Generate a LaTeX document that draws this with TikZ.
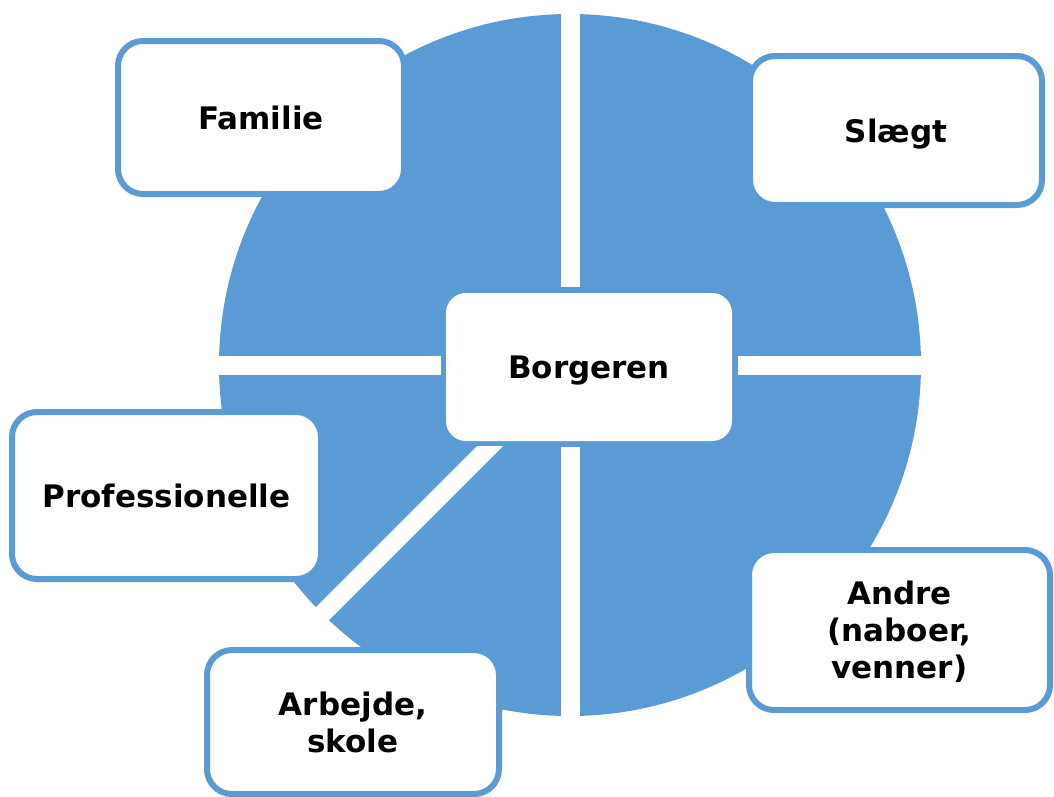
\documentclass[tikz,border=0pt]{standalone}
\usepackage{fontspec}
\setmainfont{DejaVu Sans}
\definecolor{pieblue}{HTML}{5B9BD5}
\begin{document}
\begin{tikzpicture}[x=1pt,y=-1pt,
  gap/.style={white,line width=19pt},
  box/.style={draw=pieblue,line width=6pt,fill=white,rounded corners=25pt,
    align=center,font=\fontsize{31}{37}\selectfont\bfseries,inner sep=0pt,text depth=0pt},
  centerbox/.style={fill=white,rounded corners=20pt,
    align=center,font=\fontsize{31}{37}\selectfont\bfseries,inner sep=0pt,text depth=0pt}]
\useasboundingbox (0,0) rectangle (1054,796);
\fill[white] (0,0) rectangle (1054,796);
% pie
\fill[pieblue] (570,365) circle (351);
% white gaps
\coordinate (vt1) at (570.5,5);
\coordinate (vt2) at (570.5,287);
\coordinate (vb1) at (570.5,447);
\coordinate (vb2) at (570.5,725);
\coordinate (hl1) at (212,365);
\coordinate (hl2) at (441,365);
\coordinate (hr1) at (738,365);
\coordinate (hr2) at (928,365);
\draw[gap] (vt1) -- (vt2);
\draw[gap] (vb1) -- (vb2);
\draw[gap] (hl1) -- (hl2);
\draw[gap] (hr1) -- (hr2);
\fill[white] (477,446) -- (503,446) -- (300,649) -- (274,649) -- cycle;
% boxes
\node[centerbox,minimum width=286pt,minimum height=148pt] (borgeren) at (589,367) {Borgeren};
\node[box,minimum width=286pt,minimum height=153pt] (familie) at (261,117.5) {Familie};
\node[box,minimum width=292pt,minimum height=149pt] (slaegt) at (896,130.5) {Slægt};
\node[box,minimum width=309pt,minimum height=167pt] (prof) at (166.5,495.5) {Professionelle};
\node[box,minimum width=292pt,minimum height=144pt] (arbejde) at (353,722) {Arbejde,\\skole};
\node[box,minimum width=301pt,minimum height=160pt] (andre) at (899.5,630) {Andre\\(naboer,\\venner)};
\end{tikzpicture}
\end{document}
